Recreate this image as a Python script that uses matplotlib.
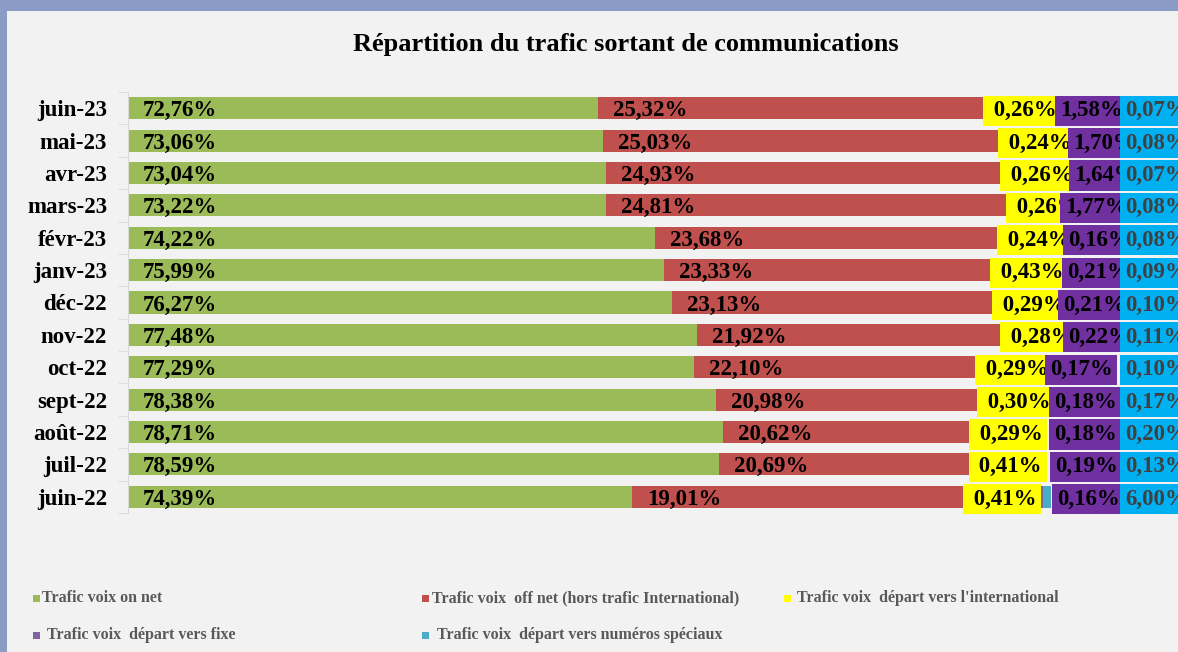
import numpy as np
import matplotlib.pyplot as plt
from matplotlib.patches import Rectangle

plt.rcParams['font.family'] = ['Liberation Serif', 'DejaVu Serif']

months = ['juin-23', 'mai-23', 'avr-23', 'mars-23', 'févr-23', 'janv-23', 'déc-22',
          'nov-22', 'oct-22', 'sept-22', 'août-22', 'juil-22', 'juin-22']

# bar lengths (axis units)
on_net = [50.98, 51.52, 51.84, 51.84, 57.16, 58.13, 59.00, 61.71, 61.39, 63.77, 64.53, 64.09, 54.66]
off_net = [41.76, 42.84, 42.73, 43.38, 37.09, 35.36, 34.71, 32.86, 30.48, 28.31, 26.68, 27.11, 35.90]
intl = [3.0, 3.0, 3.0, 3.0, 3.0, 3.0, 3.0, 3.0, 3.0, 3.0, 3.0, 3.0, 4.0]
fixe = [2.5, 2.5, 2.5, 2.5, 2.5, 2.5, 2.5, 2.5, 2.5, 2.5, 2.5, 2.5, 4.7]
speciaux = [0.8, 0.8, 0.8, 0.8, 0.8, 0.8, 0.8, 0.8, 0.8, 0.8, 0.8, 0.8, 0.8]

# data labels as printed on the chart
on_net_lbl = ['72,76%', '73,06%', '73,04%', '73,22%', '74,22%', '75,99%', '76,27%',
              '77,48%', '77,29%', '78,38%', '78,71%', '78,59%', '74,39%']
off_net_lbl = ['25,32%', '25,03%', '24,93%', '24,81%', '23,68%', '23,33%', '23,13%',
               '21,92%', '22,10%', '20,98%', '20,62%', '20,69%', '19,01%']
intl_lbl = ['0,26%', '0,24%', '0,26%', '0,26%', '0,24%', '0,43%', '0,29%',
            '0,28%', '0,29%', '0,30%', '0,29%', '0,41%', '0,41%']
fixe_lbl = ['1,58%', '1,70%', '1,64%', '1,77%', '0,16%', '0,21%', '0,21%',
            '0,22%', '0,17%', '0,18%', '0,18%', '0,19%', '0,16%']
speciaux_lbl = ['0,07%', '0,08%', '0,07%', '0,08%', '0,08%', '0,09%', '0,10%',
                '0,11%', '0,10%', '0,17%', '0,20%', '0,13%', '6,00%']

series = ['Trafic voix on net', 'Trafic voix  off net (hors trafic International)',
          'Trafic voix  départ vers l\'international', 'Trafic voix  départ vers fixe',
          'Trafic voix  départ vers numéros spéciaux']
colors = ['#9BBB59', '#C0504D', '#FFFF00', '#8064A2', '#4BACC6']

# label placement (pixels of the 1178 px wide figure)
purple_lbl_px = [1060, 1073, 1074, 1065, 1068, 1067, 1063, 1068, 1050, 1054, 1054, 1055, 1057]

W, H = 1178, 652
PX = 9.22          # pixels per axis unit
X0 = 128           # pixel of the y axis


def px2x(p):
    return (p - X0) / PX


fig = plt.figure(figsize=(W / 100, H / 100), dpi=100, facecolor='#F2F2F2')
ax = fig.add_axes([X0 / W, (H - 513) / H, 1 - X0 / W, (513 - 92) / H])
ax.set_facecolor('#F2F2F2')

y = np.arange(len(months))
left = np.zeros(len(months))
for vals, c in zip([on_net, off_net, intl, fixe, speciaux], colors):
    ax.barh(y, vals, left=left, height=0.68, color=c, zorder=2)
    left = left + np.array(vals)

ax.set_xlim(0, (W - X0) / PX)
ax.set_ylim(len(months) - 0.5, -0.5)

fs = 16.5
box = 'square,pad=0.2'
va = 'center_baseline'
for i in range(len(months)):
    ax.text(px2x(143), i, on_net_lbl[i], ha='left', va=va, fontsize=fs,
            fontweight='bold', zorder=3)
    ax.text(on_net[i] + px2x(143), i, off_net_lbl[i], ha='left', va=va,
            fontsize=fs, fontweight='bold', zorder=3)
    red_end = on_net[i] + off_net[i]
    ax.text(red_end + 0.5, i, ' ' + intl_lbl[i], ha='left', va=va, fontsize=fs,
            fontweight='bold', zorder=4, clip_on=False,
            bbox=dict(boxstyle=box, fc='#FFFF00', ec='none'))
    ax.text(px2x(purple_lbl_px[i]), i, fixe_lbl[i], ha='left', va=va, fontsize=fs,
            fontweight='bold', zorder=5, clip_on=False,
            bbox=dict(boxstyle=box, fc='#7030A0', ec='none'))
    ax.text(px2x(1125), i, speciaux_lbl[i], ha='left', va=va, fontsize=fs,
            fontweight='bold', color='#404040', zorder=6, clip_on=False,
            bbox=dict(boxstyle=box, fc='#00B0F0', ec='none'))

ax.set_yticks(y)
ax.set_yticklabels(months, fontsize=fs, fontweight='bold')
ax.set_yticks(np.arange(len(months) + 1) - 0.5, minor=True)
ax.tick_params(axis='y', which='major', length=0, pad=15)
ax.tick_params(axis='y', which='minor', length=7, color='#D9D9D9')
ax.set_xticks([])
for s in ['top', 'right', 'bottom']:
    ax.spines[s].set_visible(False)
ax.spines['left'].set_color('#D9D9D9')

fig.text(626 / W, 1 - 45 / H, 'Répartition du trafic sortant de communications',
         ha='center', va='center', fontsize=19, fontweight='bold')

# legend
leg_pos = [(33, 598, 42), (422, 598, 432), (784, 598, 797), (33, 635, 47), (422, 635, 437)]
for (mx, my, tx), name, c in zip(leg_pos, series, colors):
    fig.patches.append(Rectangle((mx / W, 1 - (my + 4) / H), 7 / W, 7 / H,
                                 transform=fig.transFigure, fc=c, ec='none'))
    fig.text(tx / W, 1 - my / H, name, ha='left', va='center', fontsize=11.5,
             fontweight='bold', color='#595959')

# frame bands
fig.patches.append(Rectangle((0, 1 - 11 / H), 1, 11 / H, transform=fig.transFigure,
                             fc='#8A9CC5', ec='none', zorder=10))
fig.patches.append(Rectangle((0, 0), 7 / W, 1, transform=fig.transFigure,
                             fc='#8A9CC5', ec='none', zorder=10))

fig.savefig('out.png', dpi=100, facecolor=fig.get_facecolor())
